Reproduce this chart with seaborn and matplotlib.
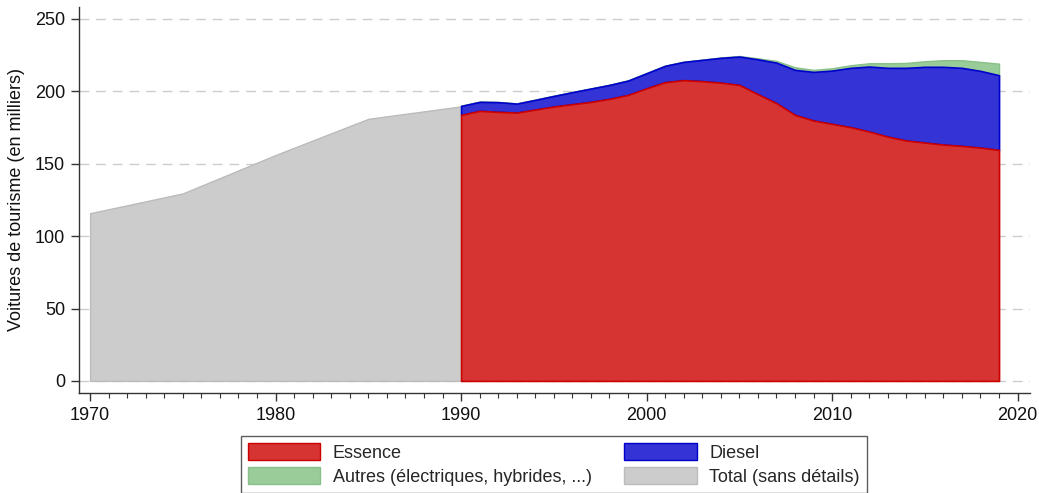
import numpy as np
import pandas as pd
import matplotlib
matplotlib.use("Agg")
import matplotlib.pyplot as plt
import seaborn as sns
from matplotlib.patches import Patch
from matplotlib.ticker import MultipleLocator

# Parc total avant le détail par carburant (milliers)
annees_total = [1970, 1975, 1980, 1985, 1990]
total = [115.8, 129.5, 156.0, 181.0, 189.6]

# Détail par carburant, 1990-2019 (milliers)
annees = list(range(1990, 2020))
essence = [183.7, 186.5, 185.8, 185.3, 187.4, 189.5, 191.1, 192.7, 194.8, 197.5,
           202.1, 206.3, 207.7, 207.0, 206.0, 204.4, 198.0, 191.8, 183.7, 179.8,
           177.5, 175.2, 172.2, 168.7, 166.0, 164.6, 163.2, 162.3, 161.1, 159.5]
diesel = [6.2, 6.2, 6.7, 6.2, 6.7, 7.3, 8.3, 9.2, 9.6, 9.9,
          10.4, 11.3, 12.6, 14.7, 17.1, 19.6, 24.1, 28.0, 31.1, 33.6,
          36.8, 41.0, 44.9, 47.5, 50.2, 52.3, 53.7, 53.9, 53.0, 51.6]
autres = [0.2, 0.2, 0.2, 0.2, 0.2, 0.2, 0.2, 0.2, 0.2, 0.2,
          0.2, 0.2, 0.2, 0.2, 0.3, 0.4, 0.7, 1.2, 1.8, 1.4,
          1.6, 1.8, 2.3, 3.2, 3.4, 3.9, 4.6, 5.3, 6.2, 8.0]

labels = ["Essence", "Diesel", "Autres (électriques, hybrides, ...)", "Total (sans détails)"]
fill_colors = ["#D63333", "#3333D6", "#99CC99", "#CCCCCC"]
edge_colors = ["#CC0000", "#0000CC", "#88C088", "#BBBBBB"]

sns.set_theme(style="ticks")
plt.rcParams["font.family"] = ["Liberation Sans", "DejaVu Sans"]

df = pd.DataFrame({"annee": annees, "essence": essence, "diesel": diesel, "autres": autres})
df["c1"] = df["essence"]
df["c2"] = df["c1"] + df["diesel"]
df["c3"] = df["c2"] + df["autres"]
dft = pd.DataFrame({"annee": annees_total, "total": total})

fig = plt.figure(figsize=(10.39, 4.93), dpi=100)
ax = fig.add_axes([0.076, 0.203, 0.915, 0.783])

# Grille horizontale en tirets
for yv in range(0, 251, 50):
    ax.axhline(yv, color="#CCCCCC", lw=1.0, ls=(0, (7, 5)), zorder=0)

ax.fill_between(dft["annee"], 0, dft["total"], facecolor=fill_colors[3],
                edgecolor=edge_colors[3], lw=1.0, zorder=1)
ax.fill_between(df["annee"], df["c2"], df["c3"], facecolor=fill_colors[2],
                edgecolor=edge_colors[2], lw=1.0, zorder=2)
ax.fill_between(df["annee"], df["c1"], df["c2"], facecolor=fill_colors[1],
                edgecolor=edge_colors[1], lw=1.2, zorder=3)
ax.fill_between(df["annee"], 0, df["c1"], facecolor=fill_colors[0],
                edgecolor=edge_colors[0], lw=1.2, zorder=4)

ax.set_xlim(1969.4, 2020.65)
ax.set_ylim(-8.3, 258.3)
ax.set_xticks(range(1970, 2021, 10))
ax.xaxis.set_minor_locator(MultipleLocator(1))
ax.set_yticks(range(0, 251, 50))
ax.tick_params(axis="both", which="major", labelsize=13, length=6, width=1,
               color="#333333", labelcolor="#111111", pad=4)
ax.tick_params(axis="x", which="minor", length=3.5, width=0.8, color="#333333")
ax.set_ylabel("Voitures de tourisme (en milliers)", fontsize=13, color="#111111", labelpad=7)
ax.set_xlabel("")
sns.despine(ax=ax)
for sp in ("left", "bottom"):
    ax.spines[sp].set_color("#333333")
    ax.spines[sp].set_linewidth(1.0)

handles = [Patch(facecolor=f, edgecolor=e, lw=1.0) for f, e in zip(fill_colors, edge_colors)]
# ordre par colonnes : Essence / Autres puis Diesel / Total
order = [0, 2, 1, 3]
leg = fig.legend([handles[i] for i in order], [labels[i] for i in order],
                 loc="upper center", bbox_to_anchor=(0.533, 0.134), ncol=2,
                 fontsize=13, frameon=True, fancybox=False, edgecolor="#333333",
                 handlelength=4.0, handleheight=1.05, handletextpad=0.7,
                 columnspacing=1.8, borderpad=0.4, labelspacing=0.3)
leg.get_frame().set_linewidth(1.0)

fig.savefig("out.png", dpi=100, facecolor="white")
